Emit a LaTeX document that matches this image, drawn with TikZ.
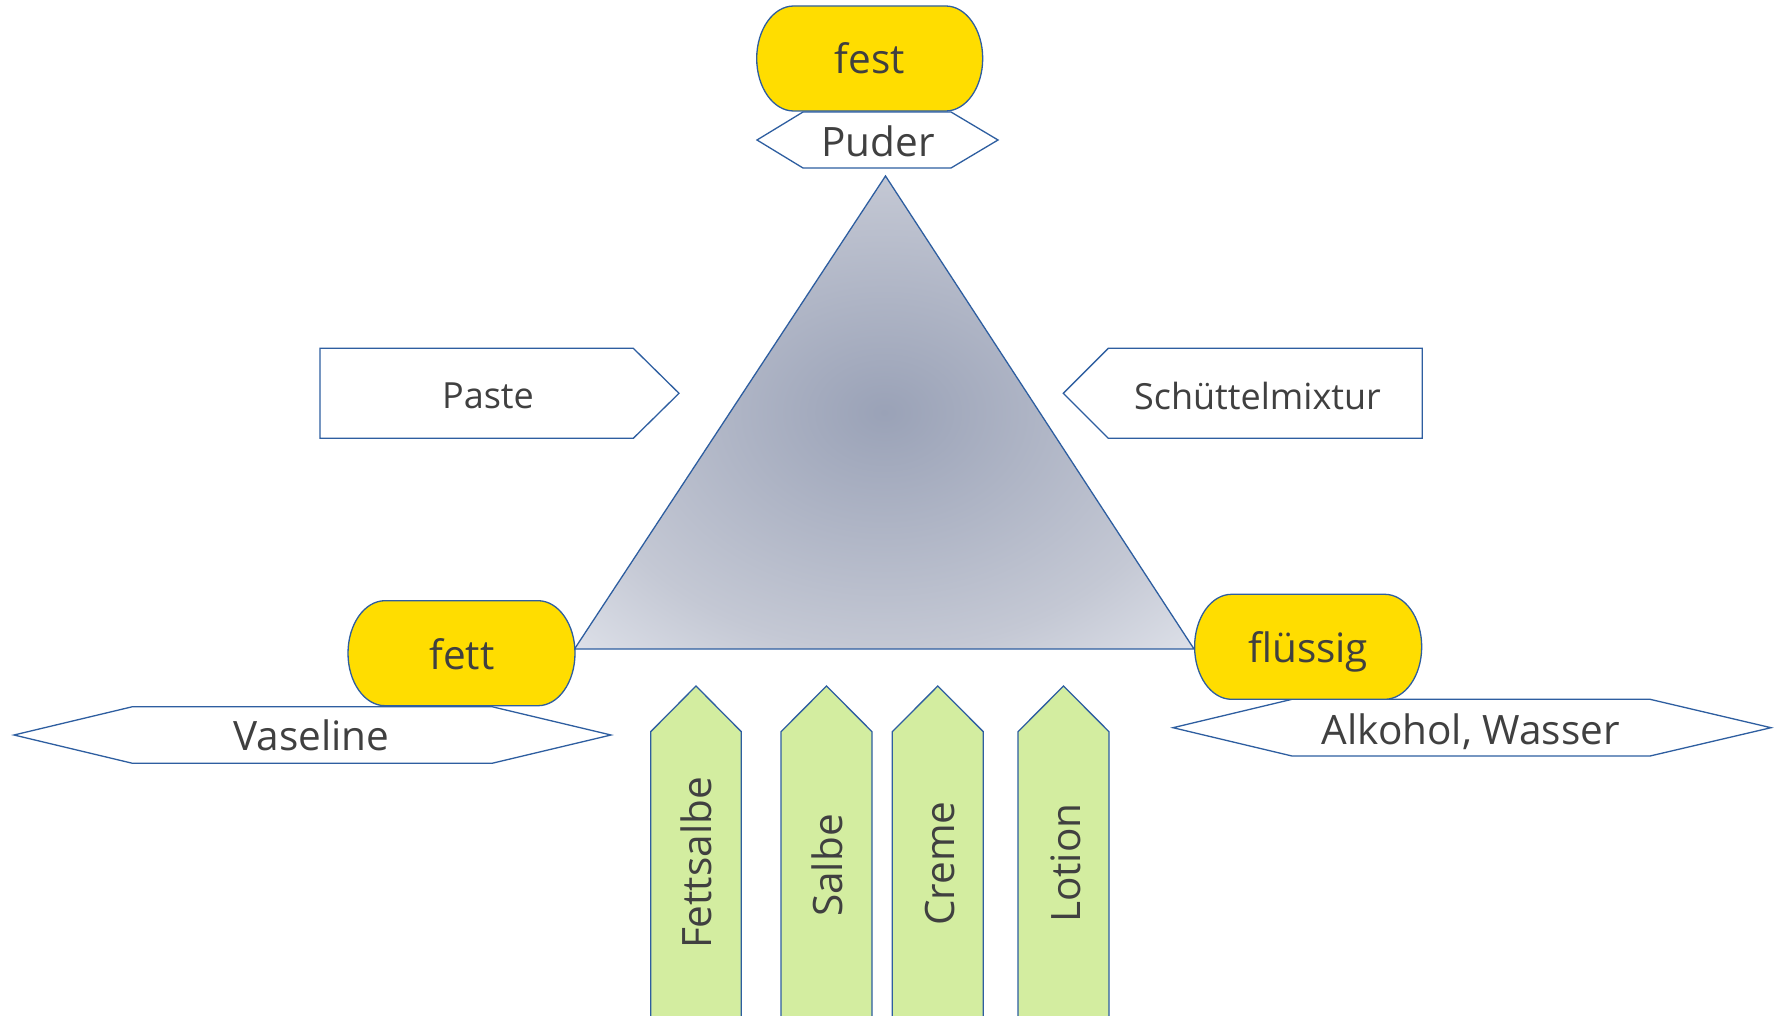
\documentclass[tikz,border=0pt]{standalone}
\usepackage{fontspec}
\setmainfont{Open Sans}
\definecolor{ol}{RGB}{46,94,160}
\definecolor{yel}{RGB}{255,221,0}
\definecolor{grn}{RGB}{211,237,160}
\definecolor{txt}{RGB}{64,64,64}
\definecolor{tc}{RGB}{154,162,183}
\definecolor{tm}{RGB}{196,200,212}
\definecolor{te}{RGB}{222,225,233}
\pgfdeclareradialshading{trishade}{\pgfpoint{0bp}{0bp}}{color(0bp)=(tc); color(25bp)=(tm); color(36bp)=(te); color(50bp)=(te)}
\begin{document}
\begin{tikzpicture}[x=1pt,y=-1pt,
  shp/.style={draw=ol, line width=1.3pt, line join=miter},
  lbl/.style={inner sep=0pt, text=txt, anchor=base, font=\fontsize{40.5}{48}\selectfont},
  slbl/.style={lbl, font=\fontsize{36}{43}\selectfont}]
\useasboundingbox (0,0) rectangle (1777,1016);
\clip (0,0) rectangle (1777,1016);
\fill[white] (0,0) rectangle (1777,1016);
% hexagons
\draw[shp, fill=white] (757,140) -- (803,112) -- (951,112) -- (998,140) -- (951,168) -- (803,168) -- cycle;
\draw[shp, fill=white] (14,735) -- (132.5,706.7) -- (492,706.7) -- (611,735) -- (492,763.3) -- (132.5,763.3) -- cycle;
\draw[shp, fill=white] (1173,727.7) -- (1292,699.3) -- (1650,699.3) -- (1771,727.7) -- (1650,756) -- (1292,756) -- cycle;
% side pentagons
\draw[shp, fill=white] (320,348.3) -- (633.3,348.3) -- (679,393.3) -- (633.3,438.3) -- (320,438.3) -- cycle;
\draw[shp, fill=white] (1063.3,393.3) -- (1108.3,348.3) -- (1422.3,348.3) -- (1422.3,438.3) -- (1108.3,438.3) -- cycle;
% triangle
\coordinate (apex) at (885.5,176);
\coordinate (bl) at (574.5,649);
\coordinate (br) at (1194,649);
\shadedraw[shading=trishade, shp] (apex) -- (br) -- (bl) -- cycle;
% stadiums
\draw[shp, fill=yel] (793.7,6) -- (945.7,6) arc[start angle=90, end angle=-90, x radius=37pt, y radius=52.5pt] -- (793.7,111) arc[start angle=270, end angle=90, x radius=37pt, y radius=52.5pt] -- cycle;
\draw[shp, fill=yel] (385,600.7) -- (538,600.7) arc[start angle=90, end angle=-90, x radius=37pt, y radius=52.5pt] -- (385,705.7) arc[start angle=270, end angle=90, x radius=37pt, y radius=52.5pt] -- cycle;
\draw[shp, fill=yel] (1231.6,594.3) -- (1384.7,594.3) arc[start angle=90, end angle=-90, x radius=37pt, y radius=52.5pt] -- (1231.6,699.3) arc[start angle=270, end angle=90, x radius=37pt, y radius=52.5pt] -- cycle;
% vertical arrows
\draw[shp, fill=grn] (650.7,1030) -- (650.7,731.7) -- (696,686) -- (741.3,731.7) -- (741.3,1030);
\draw[shp, fill=grn] (781,1030) -- (781,731.7) -- (826.5,686) -- (872,731.7) -- (872,1030);
\draw[shp, fill=grn] (892.3,1030) -- (892.3,731.7) -- (937.8,686) -- (983.3,731.7) -- (983.3,1030);
\draw[shp, fill=grn] (1018,1030) -- (1018,731.7) -- (1063.5,686) -- (1109,731.7) -- (1109,1030);
% labels
\node[lbl] (fest) at (869.7,74) {fest};
\node[lbl] (puder) at (878,156.7) {Puder};
\node[lbl] (fett) at (462,669.3) {fett};
\node[lbl] (fluessig) at (1308.2,662.7) {flüssig};
\node[lbl] (vaseline) at (311.6,750.7) {Vaseline};
\node[lbl] (alkohol) at (1470.8,744.3) {Alkohol, Wasser};
\node[slbl] (paste) at (488,408.3) {Paste};
\node[slbl] (schuettel) at (1257.5,409.3) {Schüttelmixtur};
\node[lbl, rotate=90] (fettsalbe) at (711.7,863) {Fettsalbe};
\node[lbl, rotate=90] (salbe) at (842.5,865.5) {Salbe};
\node[lbl, rotate=90] (creme) at (954,863.5) {Creme};
\node[lbl, rotate=90] (lotion) at (1080,863.3) {Lotion};
\end{tikzpicture}
\end{document}
